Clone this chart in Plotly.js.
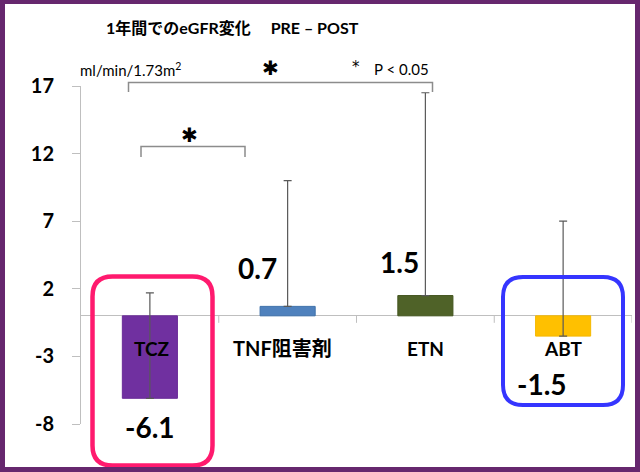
<!DOCTYPE html>
<html><head><meta charset="utf-8">
<script src="https://cdn.plot.ly/plotly-3.0.1.min.js"></script>
<style>
html,body{margin:0;padding:0;background:#fff;}
#wrap{position:relative;width:640px;height:472px;}
#chart{position:absolute;left:0;top:0;width:640px;height:472px;}
#frame{position:absolute;left:0;top:0;width:640px;height:472px;box-sizing:border-box;border:5px solid #66276e;border-top-width:4px;pointer-events:none;}
</style></head><body>
<div id="wrap"><div id="chart"></div><div id="frame"></div></div>
<script>
// ---- data ----
const categories = ['TCZ', 'TNF阻害剤', 'ETN', 'ABT'];
const values = [-6.1, 0.7, 1.5, -1.5];
const errorPlus = [7.8, 9.3, 15.0, 8.5];
const errorMinus = [0, 0, 0, 0];
const yTicks = [-8, -3, 2, 7, 12, 17];
const yRange = [-8, 17];

// ---- styles ----
const barColors = ['#7030a0', '#4f81bd', '#4f6228', '#ffc000'];
const barLines = ['#6a2c98', '#3e70aa', '#44561f', '#f5b800'];
const W = 640, H = 472;
const M = {l: 81, r: 8, t: 86, b: 48};
const PW = W - M.l - M.r, PH = H - M.t - M.b;
const px = x => (x - M.l) / PW;
const py = y => (H - M.b - y) / PH;
const FONT = 'Lato, "Noto Sans CJK JP", sans-serif';

function rr(x0, y0, x1, y1, r) {
  const X = px, Y = py;
  return 'M' + X(x0 + r) + ',' + Y(y0) +
    ' L' + X(x1 - r) + ',' + Y(y0) +
    ' Q' + X(x1) + ',' + Y(y0) + ' ' + X(x1) + ',' + Y(y0 + r) +
    ' L' + X(x1) + ',' + Y(y1 - r) +
    ' Q' + X(x1) + ',' + Y(y1) + ' ' + X(x1 - r) + ',' + Y(y1) +
    ' L' + X(x0 + r) + ',' + Y(y1) +
    ' Q' + X(x0) + ',' + Y(y1) + ' ' + X(x0) + ',' + Y(y1 - r) +
    ' L' + X(x0) + ',' + Y(y0 + r) +
    ' Q' + X(x0) + ',' + Y(y0) + ' ' + X(x0 + r) + ',' + Y(y0) + ' Z';
}
function bracket(x0, x1, yTop, yBot) {
  return 'M' + px(x0) + ',' + py(yBot) + ' L' + px(x0) + ',' + py(yTop) +
    ' L' + px(x1) + ',' + py(yTop) + ' L' + px(x1) + ',' + py(yBot);
}

const trace = {
  type: 'bar',
  x: categories,
  y: values,
  width: 0.4,
  marker: {color: barColors, line: {color: barLines, width: 1}},
  error_y: {type: 'data', symmetric: false, array: errorPlus, arrayminus: errorMinus,
            color: '#595959', thickness: 1.2, width: 4},
  hoverinfo: 'none'
};

const shapes = [];
// category boundary ticks below the zero line
for (let i = 0; i < categories.length; i++) {
  shapes.push({type: 'line', xref: 'x', yref: 'y', ysizemode: 'pixel', yanchor: 0,
    x0: i + 0.5, x1: i + 0.5, y0: 0, y1: -7, line: {color: '#bfbfbf', width: 1}});
}
shapes.push({type: 'path', xref: 'paper', yref: 'paper', path: bracket(128.5, 432.5, 82.5, 92),
  line: {color: '#8c8c8c', width: 1.5}});
shapes.push({type: 'path', xref: 'paper', yref: 'paper', path: bracket(141, 245, 146.5, 157),
  line: {color: '#8c8c8c', width: 1.5}});
shapes.push({type: 'path', xref: 'paper', yref: 'paper', layer: 'above', path: rr(92.5, 276.5, 212.5, 465.5, 20),
  line: {color: '#ff1a6e', width: 4.5}});
shapes.push({type: 'path', xref: 'paper', yref: 'paper', layer: 'above', path: rr(503, 277, 623, 405, 20),
  line: {color: '#3535ff', width: 4}});

const annotations = [];
function ann(text, x, y, size, bold, family) {
  annotations.push({
    text: bold ? '<b>' + text + '</b>' : text, xref: 'paper', yref: 'paper',
    x: px(x), y: py(y), xanchor: 'center', yanchor: 'middle', showarrow: false,
    font: {family: family || FONT, size: size, color: '#000'}
  });
}
ann('1年間でのeGFR変化　 PRE – POST', 232, 27, 16, true);
ann('ml/min/1.73m<sup>2</sup>', 130, 69, 15, false);
ann('✱', 270, 68, 20, false, 'DejaVu Sans');
ann('✱', 189, 134.5, 20, false, 'DejaVu Sans');
ann('*', 356, 67, 15, false, 'DejaVu Sans');
ann('P < 0.05', 401, 69, 15, false);

// category labels
const catLabelX = [151, 282, 425, 563];
categories.forEach((c, i) => ann(c, catLabelX[i], 348, i === 1 ? 20 : 19, true));
// value labels
const valLabelPos = [[149.5, 427], [257.5, 267.5], [399, 261.5], [542, 384]];
values.forEach((v, i) => ann(v.toFixed(1), valLabelPos[i][0], valLabelPos[i][1], 28, true));

const layout = {
  width: W, height: H,
  margin: M,
  paper_bgcolor: '#fff', plot_bgcolor: 'rgba(0,0,0,0)',
  showlegend: false,
  xaxis: {type: 'category', range: [-0.5, categories.length - 0.5], showticklabels: false,
          showline: false, ticks: '', showgrid: false, zeroline: false, fixedrange: true},
  yaxis: {range: yRange, tickvals: yTicks, ticktext: yTicks.map(v => '<b>' + v + '</b>'), showgrid: false,
          showline: true, linecolor: '#bfbfbf', linewidth: 1, ticks: 'outside', ticklen: 8,
          tickcolor: '#bfbfbf', tickwidth: 1, ticklabelstandoff: 14,
          zeroline: true, zerolinecolor: '#bfbfbf', zerolinewidth: 1,
          tickfont: {family: FONT, size: 20, color: '#000'}, fixedrange: true},
  shapes: shapes,
  annotations: annotations
};

Plotly.newPlot('chart', [trace], layout, {staticPlot: true, displayModeBar: false});
</script>
</body></html>
